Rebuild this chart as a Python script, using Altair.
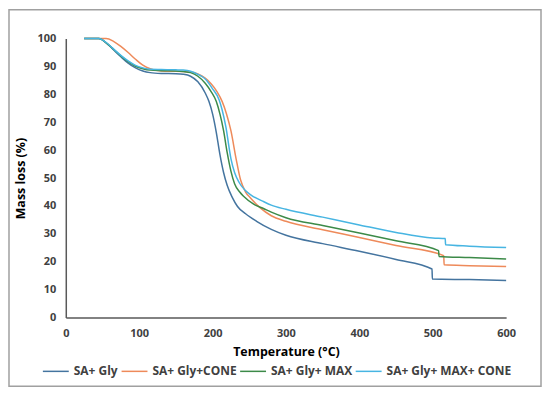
import altair as alt
import pandas as pd

series_names = ["SA+ Gly", "SA+ Gly+CONE", "SA+ Gly+ MAX", "SA+ Gly+ MAX+ CONE"]
colors = ["#44749F", "#EE8A5A", "#3C8A48", "#47B5E2"]

t_gly = [25, 45, 55, 65, 75, 85, 95, 105, 115, 130, 150, 160, 170, 180, 190, 195, 200, 205, 210, 215, 220, 227, 234, 245, 260, 280, 300, 350, 400, 450, 499, 499.5, 550, 600]
m_gly = [100, 100, 98.5, 96, 93.5, 91.2, 89.5, 88.4, 87.8, 87.5, 87.4, 87.2, 86.5, 84.5, 80.5, 77.5, 73, 66.5, 58.5, 52, 47.3, 43, 39.8, 37.2, 34.5, 31.6, 29.5, 26.5, 23.8, 20.8, 17.4, 13.8, 13.6, 13.3]

t_cone = [25, 55, 65, 75, 85, 95, 105, 115, 125, 140, 160, 170, 180, 190, 198, 206, 213, 219, 225, 232, 238, 245, 252, 265, 280, 300, 350, 400, 450, 515, 515.5, 550, 600]
m_cone = [100, 100, 99, 97.2, 95, 92.6, 90.5, 89.2, 88.6, 88.3, 88.2, 88, 87.3, 85.8, 83.8, 81, 77.5, 73, 67, 57, 49.5, 45, 42.8, 39.3, 36.5, 34.5, 31.5, 28.7, 25.8, 22.2, 18.9, 18.6, 18.3]

t_max = [25, 45, 55, 65, 75, 85, 95, 105, 115, 130, 150, 160, 170, 180, 190, 198, 205, 210, 215, 220, 225, 230, 237, 243, 255, 270, 280, 300, 350, 400, 450, 508, 508.5, 550, 600]
m_max = [100, 100, 98.5, 96.2, 93.8, 91.7, 90.1, 89.2, 88.7, 88.5, 88.4, 88.2, 87.8, 86.5, 84, 81, 77.5, 73, 67, 59, 52.5, 48, 45, 43.3, 40.8, 39, 37.8, 35.8, 33, 30.3, 27.5, 24, 21.9, 21.5, 21]

t_maxcone = [25, 45, 55, 65, 75, 85, 95, 105, 115, 130, 150, 160, 170, 180, 190, 200, 209, 213, 218, 225, 230, 236, 244, 252, 270, 280, 300, 350, 400, 450, 500, 517, 517.5, 550, 600]
m_maxcone = [100, 100, 98.6, 96.3, 94, 92, 90.4, 89.5, 89, 88.9, 88.8, 88.7, 88.3, 87.2, 85.5, 82, 78, 74.5, 68.5, 57, 52, 48.5, 45.7, 44, 41.5, 40.3, 38.8, 36, 33.2, 30.5, 28.5, 28.3, 26.1, 25.6, 25.1]

x_ticks = [0, 100, 200, 300, 400, 500, 600]
y_ticks = [0, 10, 20, 30, 40, 50, 60, 70, 80, 90, 100]

rows = []
for name, ts, ms in zip(series_names, [t_gly, t_cone, t_max, t_maxcone], [m_gly, m_cone, m_max, m_maxcone]):
    for i, (t, m) in enumerate(zip(ts, ms)):
        rows.append({"series": name, "T": t, "M": m, "idx": i})
df = pd.DataFrame(rows)

FONT = "Open Sans"

lines = alt.Chart(df).mark_line(strokeWidth=1.5, interpolate="monotone").encode(
    x=alt.X("T:Q", scale=alt.Scale(domain=[0, 600], nice=False),
            axis=alt.Axis(values=x_ticks, title="Temperature (°C)", grid=False, ticks=False,
                          labelFlush=False, domainColor="#595959", domainWidth=1.5,
                          labelFont=FONT, labelFontSize=11, labelFontWeight="bold", labelColor="#404040",
                          labelPadding=10, titleFont=FONT, titleFontSize=12.5, titleFontWeight="bold",
                          titleColor="#000000", titlePadding=7)),
    y=alt.Y("M:Q", scale=alt.Scale(domain=[0, 100], nice=False),
            axis=alt.Axis(values=y_ticks, title="Mass loss (%)", grid=False, ticks=False,
                          domainColor="#595959", domainWidth=1.5,
                          labelFont=FONT, labelFontSize=11, labelFontWeight="bold", labelColor="#404040",
                          labelPadding=10, titleFont=FONT, titleFontSize=12.5, titleFontWeight="bold",
                          titleColor="#000000", titlePadding=10)),
    color=alt.Color("series:N", scale=alt.Scale(domain=series_names, range=colors),
                    legend=alt.Legend(title=None, orient="none", direction="horizontal",
                                      legendX=-24, legendY=320, symbolType="stroke",
                                      symbolSize=676, symbolStrokeWidth=1.5,
                                      labelFont=FONT, labelFontSize=12, labelFontWeight="bold",
                                      labelColor="#404040", labelOffset=4, columnPadding=0)),
    order="idx:Q",
)

frame_df = pd.DataFrame({"a": [0]})
frame = alt.Chart(frame_df).mark_rect(fill=None, stroke="#A0A0A0", strokeWidth=1.5).encode(
    x=alt.value(-57), x2=alt.value(477), y=alt.value(-29), y2=alt.value(349)
)

chart = alt.layer(frame, lines).properties(
    width=442, height=280,
    autosize=alt.AutoSizeParams(type="none"),
    padding={"left": 58, "top": 30, "right": 36, "bottom": 70},
).configure_view(stroke=None)

chart.save("out.html", embed_options={"renderer": "svg", "actions": False})
